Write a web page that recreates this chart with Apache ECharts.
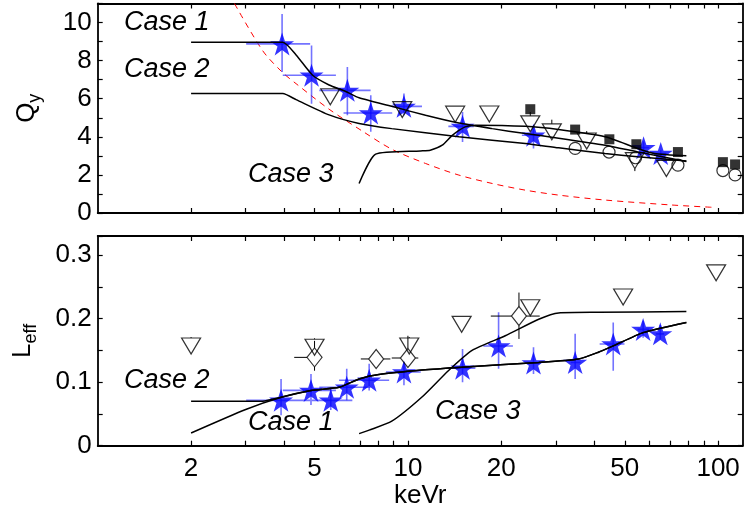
<!DOCTYPE html>
<html><head><meta charset="utf-8">
<script src="https://cdn.jsdelivr.net/npm/echarts@6/dist/echarts.min.js"></script>
<style>html,body{margin:0;padding:0;background:#fff}#c{width:746px;height:513px}</style>
</head><body><div id="c"></div>
<script>
// ---------- data (energies in keVr) ----------
const xTickValues = [2,3,4,5,6,7,8,9,10,20,30,40,50,60,70,80,90,100];
const xLabelValues = [2,5,10,20,50,100];

// Top panel: Qy
const qStar = [[3.93,8.88],[4.89,7.23],[6.38,6.44],[7.59,5.25],[9.71,5.6],[15.0,4.55],[25.4,4.08],[57.5,3.43],[65.3,3.12]];
const qStarErr = [[3.01,4.84,7.4,10.45],[3.95,5.86,5.74,8.8],[5.18,7.58,5.13,7.66],[6.2,8.9,4.26,6.18],[8.87,11.1,5.13,6.27],[13.5,16.3,3.73,5.3],[23.3,27.4,3.39,4.61],[55,60,3.2,3.75],[63,68,2.95,3.3]];
const qTri = [[5.62,6.1],[9.59,5.43],[14.2,5.19],[18.3,5.2],[24.8,4.68],[29.1,4.26],[37.7,3.78],[53.9,2.75],[68.1,2.34]];
const qTriErr = [[null,null],[null,null],[null,null],[null,null],[null,5.3],[null,4.9],[null,4.3],[2.2,null],[null,null]];
const qSquare = [[24.8,5.45],[34.6,4.38],[44.6,3.87],[54.5,3.61],[74.2,3.2],[103.6,2.67],[113.4,2.55]];
const qCircle = [[34.6,3.39],[44.5,3.2],[54.2,2.9],[74.2,2.51],[103.6,2.23],[113.4,2.0]];
const qCase1 = [[2,8.97],[3.95,8.97],[4.36,8.3],[4.93,7.23],[5.57,6.72],[6.3,6.38],[6.96,6.05],[8.87,5.6],[11.4,5.13],[14.6,4.72],[18.7,4.43],[23.9,4.17],[30.6,3.93],[43.2,3.56],[55,3.21],[79,2.7]];
const qCase2 = [[2,6.27],[3.95,6.27],[4.36,5.95],[5.57,5.15],[6.96,4.7],[8.87,4.43],[14.6,4.0],[23.9,3.65],[30.6,3.42],[43.2,3.13],[55,2.95],[79,2.73]];
const qCase3 = [[6.96,1.55],[7.87,3.09],[10.98,3.26],[11.8,3.3],[12.9,3.56],[13.9,4.08],[15.3,4.52],[16.5,4.61],[23.9,4.55],[30.6,4.38],[43.2,4.0],[55,3.39],[62.3,3.13],[79,3.0]];
const qDash = [[2.76,11.0],[3.4,8.53],[3.93,7.4],[4.36,6.79],[5.57,5.45],[7.13,4.3],[8.87,3.35],[11.4,2.6],[14.6,1.99],[18.7,1.55],[23.9,1.2],[30.6,0.94],[43.2,0.68],[70.8,0.42],[95.4,0.3]];

// Bottom panel: Leff
const lStar = [[3.9,0.0714],[4.87,0.087],[5.64,0.0714],[6.35,0.092],[7.5,0.103],[9.71,0.116],[15.0,0.122],[19.6,0.157],[25.4,0.13],[34.6,0.131],[45.9,0.16],[57.3,0.183],[65.1,0.176]];
const lStarErr = [[3.01,4.84,0.048,0.105],[3.95,5.86,0.064,0.113],[4.9,6.62,0.056,0.092],[5.18,7.58,0.0714,0.121],[6.0,8.7,0.087,0.129],[8.5,11.0,0.095,0.131],[13.5,16.5,0.1,0.152],[17.5,21.8,0.121,0.21],[24.5,26.5,0.113,0.155],[33.5,36,0.105,0.176],[41.5,49.9,0.118,0.194],[55,60,0.17,0.196],[63,67,0.167,0.19]];
const lTri = [[2.0,0.157],[5.0,0.155],[10.1,0.157],[14.9,0.191],[24.8,0.217],[49.4,0.234],[98.5,0.272]];
const lTriErrHi = [0.171,0.169,0.171,0.2,0.228,null,0.28];
const lDiamond = [[5.0,0.139],[7.9,0.1365],[10.0,0.138],[22.8,0.204]];
const lDiamondErr = [[4.3,5.28,0.118,0.165],[7.05,8.78,null,null],[8.87,10.8,0.123,0.173],[18.5,26.6,0.168,0.241]];
const lCase1 = [[2,0.02],[3.0,0.057],[3.93,0.0766],[4.87,0.087],[6.0,0.092],[6.96,0.105],[8.06,0.112],[11.1,0.119],[14.9,0.1235],[26.4,0.131],[35.5,0.1365],[41.1,0.147],[45.9,0.157],[57.3,0.178],[79,0.194]];
const lCase2 = [[2,0.07],[3.4,0.07],[3.93,0.0766],[4.87,0.087],[6.0,0.092],[6.96,0.105],[8.06,0.112],[11.1,0.119],[14.9,0.1235],[26.4,0.131],[35.5,0.1365],[41.1,0.147],[45.9,0.157],[57.3,0.178],[79,0.194]];
const lCase3 = [[6.96,0.019],[7.5,0.0245],[8.87,0.0385],[11.1,0.0766],[13.5,0.118],[16.1,0.15],[20.6,0.173],[26.4,0.199],[30.6,0.209],[41.1,0.21],[79,0.211]];

// ---------- helpers ----------
const lg = v => Math.log10(v);
const P = arr => arr.map(d => [lg(d[0]), d[1]]);
const FONT = '"Liberation Sans", Arial, Helvetica, sans-serif';
const STAR = 'path://M50,0 L61.8,35.4 L100,35.4 L69.1,57.3 L80.9,92.7 L50,70.8 L19.1,92.7 L30.9,57.3 L0,35.4 L38.2,35.4 Z';

function errData(pts, errs){
  return pts.map((p,i)=>{
    const e = errs[i];
    return [lg(p[0]), p[1], e[0]==null?null:lg(e[0]), e[1]==null?null:lg(e[1]), e[2], e[3]];
  });
}
// gap: [gx, gy] pixels left empty around the marker (open symbols)
function errSeries(data, xi, yi, color, width, gap){
  const gx = gap ? gap[0] : 0, gy = gap ? gap[1] : 0;
  return {
    type:'custom', xAxisIndex:xi, yAxisIndex:yi, clip:true, z:2, silent:true,
    encode:{x:0,y:1},
    renderItem:function(params, api){
      const x=api.value(0), y=api.value(1), xl=api.value(2), xh=api.value(3), yl=api.value(4), yh=api.value(5);
      const st={stroke:color,lineWidth:width};
      const ch=[];
      const c = api.coord([x,y]);
      const segPx=(x1,y1,x2,y2)=>{ch.push({type:'line',shape:{x1:x1,y1:y1,x2:x2,y2:y2},style:st});};
      if(!isNaN(xl)&&!isNaN(xh)){
        const a=api.coord([xl,y]), b=api.coord([xh,y]);
        if(gx>0){ segPx(a[0],c[1],c[0]-gx,c[1]); segPx(c[0]+gx,c[1],b[0],c[1]); }
        else segPx(a[0],c[1],b[0],c[1]);
      }
      if(!isNaN(yl)){ const a=api.coord([x,yl]); if(a[1]>c[1]+gy) segPx(c[0],c[1]+gy,c[0],a[1]); }
      if(!isNaN(yh)){ const b=api.coord([x,yh]); if(b[1]<c[1]-gy) segPx(c[0],c[1]-gy,c[0],b[1]); }
      return {type:'group',children:ch};
    },
    data:data
  };
}
function lineSeries(data, xi, yi, extra){
  return Object.assign({type:'line', xAxisIndex:xi, yAxisIndex:yi, data:P(data), showSymbol:false, symbol:'none', smooth:0.2, z:5, silent:true,
    lineStyle:{color:'#000', width:1.5}}, extra||{});
}
function scat(data, xi, yi, symbol, size, item, extra){
  return Object.assign({type:'scatter', xAxisIndex:xi, yAxisIndex:yi, data:P(data), symbol:symbol, symbolSize:size, itemStyle:item, z:4, silent:true}, extra||{});
}

const xTicks = xTickValues.map(lg);
const xLabels = xLabelValues.map(lg);
function xAxis(gi, pos, showLabel){
  return {
    type:'value', gridIndex:gi, position:pos, min:0, max:lg(120),
    axisLine:{show:true, onZero:false, lineStyle:{color:'#000', width:1.8}},
    axisTick:{show:true, inside:true, length:5, customValues:xTicks, lineStyle:{color:'#000', width:1.2}},
    axisLabel:{show:showLabel, customValues:xLabels, margin:10, color:'#000', fontSize:26, fontFamily:FONT,
      formatter:v=>String(Math.round(Math.pow(10,v)))},
    splitLine:{show:false}
  };
}
function yAxis(gi, pos, max, interval, showLabel, fmt, extra){
  return Object.assign({
    type:'value', gridIndex:gi, position:pos, min:0, max:max, interval:interval,
    axisLine:{show:true, onZero:false, lineStyle:{color:'#000', width:1.8}},
    axisTick:{show:true, inside:true, length:5, lineStyle:{color:'#000', width:1.2}},
    axisLabel:{show:showLabel, margin:6, color:'#000', fontSize:26, fontFamily:FONT, formatter:fmt},
    splitLine:{show:false}
  }, extra||{});
}
const fmtQ = v => (Math.round(v)%2===0 && Math.abs(v-Math.round(v))<1e-6) ? String(Math.round(v)) : '';
const fmtL = v => { const r=Math.round(v*100); if (Math.abs(v*100-r)>1e-6 || r%10!==0) return ''; return r===0?'0':(r/100).toFixed(1); };

const blueErr = 'rgba(40,40,255,0.65)';
const starItem = {color:'#0000ff'};
const openItem = {color:'rgba(255,255,255,0)', borderColor:'#000', borderWidth:1.2};

const option = {
  animation:false,
  backgroundColor:'#fff',
  grid:[
    {left:97.7, top:3.5, width:645, height:209.5},
    {left:97.7, top:236, width:645, height:209.7}
  ],
  xAxis:[
    xAxis(0,'bottom',false),
    xAxis(0,'top',false),
    Object.assign(xAxis(1,'bottom',true), {name:'keVr', nameLocation:'middle', nameGap:37,
      nameTextStyle:{fontSize:26, fontFamily:FONT, color:'#000', verticalAlign:'top'}}),
    xAxis(1,'top',false)
  ],
  yAxis:[
    yAxis(0,'left',11,1,true,fmtQ,{name:'{q|Q}{s|y}', nameLocation:'middle', nameGap:54, nameRotate:90,
      nameTextStyle:{color:'#000', rich:{q:{fontSize:26, fontFamily:FONT, lineHeight:34, color:'#000'}, s:{fontSize:18, fontFamily:FONT, lineHeight:18, verticalAlign:'bottom', color:'#000'}}}}),
    yAxis(0,'right',11,1,false,fmtQ),
    yAxis(1,'left',0.33,0.05,true,fmtL,{name:'{q|L}{s|eff}', nameLocation:'middle', nameGap:58, nameRotate:90,
      nameTextStyle:{color:'#000', rich:{q:{fontSize:26, fontFamily:FONT, lineHeight:34, color:'#000'}, s:{fontSize:18, fontFamily:FONT, lineHeight:18, verticalAlign:'bottom', color:'#000'}}}}),
    yAxis(1,'right',0.33,0.05,false,fmtL)
  ],
  graphic:[
    {type:'text', left:124, top:9, style:{text:'Case 1', font:'italic 27px '+FONT, fill:'#000'}},
    {type:'text', left:124, top:56, style:{text:'Case 2', font:'italic 27px '+FONT, fill:'#000'}},
    {type:'text', left:248, top:161, style:{text:'Case 3', font:'italic 27px '+FONT, fill:'#000'}},
    {type:'text', left:124, top:367, style:{text:'Case 2', font:'italic 27px '+FONT, fill:'#000'}},
    {type:'text', left:248, top:409, style:{text:'Case 1', font:'italic 27px '+FONT, fill:'#000'}},
    {type:'text', left:435, top:398, style:{text:'Case 3', font:'italic 27px '+FONT, fill:'#000'}}
  ],
  series:[
    // top panel
    lineSeries(qDash,0,0,{smooth:0.3, lineStyle:{color:'#ff0000', width:1, type:[6,5]}, z:1}),
    errSeries(errData(qStar,qStarErr),0,0,blueErr,1.6),
    errSeries(qTri.map((p,i)=>[lg(p[0]),p[1],null,null,qTriErr[i][0],qTriErr[i][1]]),0,0,'#000',1,[0,8]),
    scat(qStar,0,0,STAR,[24,23],starItem),
    scat(qTri,0,0,'triangle',[19,16],openItem,{symbolRotate:180}),
    scat(qSquare,0,0,'rect',10,{color:'#000'}),
    scat(qCircle,0,0,'circle',12,openItem),
    lineSeries(qCase1,0,0),
    lineSeries(qCase2,0,0),
    lineSeries(qCase3,0,0),
    // bottom panel
    errSeries(errData(lStar,lStarErr),2,2,blueErr,1.6),
    errSeries(lDiamond.map((p,i)=>[lg(p[0]),p[1],lg(lDiamondErr[i][0]),lg(lDiamondErr[i][1]),lDiamondErr[i][2],lDiamondErr[i][3]]),2,2,'#000',1,[7.5,9.5]),
    errSeries(lTri.map((p,i)=>[lg(p[0]),p[1],null,null,null,lTriErrHi[i]]),2,2,'#000',1,[0,8]),
    scat(lStar,2,2,STAR,[24,23],starItem),
    scat(lTri,2,2,'triangle',[19,16],openItem,{symbolRotate:180}),
    scat(lDiamond,2,2,'diamond',[15,19],openItem),
    lineSeries(lCase1,2,2),
    lineSeries(lCase2,2,2),
    lineSeries(lCase3,2,2)
  ]
};
const chart = echarts.init(document.getElementById('c'), null, {renderer:'canvas'});
chart.setOption(option);
</script>
</body></html>
